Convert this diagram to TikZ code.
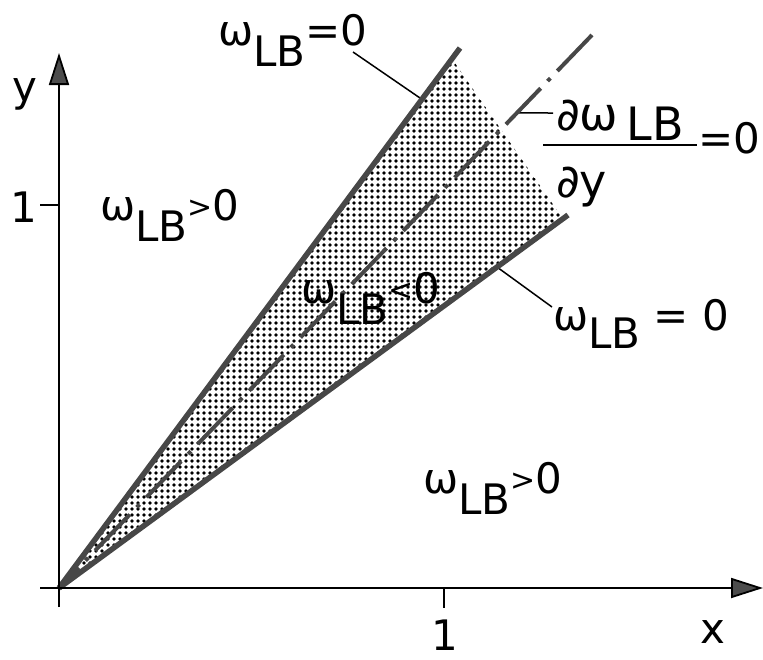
\documentclass[tikz,border=0pt]{standalone}
\usepackage{fontspec}
\setmainfont{DejaVu Sans}
\usetikzlibrary{arrows.meta,patterns.meta,calc}
\newcommand\LBs[1][-21pt]{\raisebox{#1}{LB}}
\newcommand\relsm[1]{\raisebox{3pt}{\fontsize{30}{30}\selectfont #1}}
\begin{document}
\begin{tikzpicture}[x=1pt,y=-1pt,
  lbl/.style={font=\fontsize{42}{42}\selectfont, inner sep=0pt, anchor=base west},
  bound/.style={line width=5.5pt, draw=black!72},
  dd/.style={line width=4pt, draw=black!72, dash pattern=on 50pt off 10pt on 4pt off 10pt},
  leader/.style={line width=1.5pt},
  tick/.style={line width=1.8pt},
  axis/.style={line width=1.8pt, -{Triangle[length=32pt,width=20pt,fill=black!70]}}]
\useasboundingbox (0,0) rectangle (763,659);
% key points
\coordinate (O) at (59,588);
\coordinate (U) at (460,48);
\coordinate (L) at (568,215);
\coordinate (D) at (592,35);
% shaded wedge
\fill[pattern={Dots[distance=6pt,radius=1.8pt]},pattern color=black]
  (O) -- ($(O)!0.98!(U)$) -- ($(O)!0.99!(L)$) -- cycle;
% leaders
\coordinate (t1) at (353,52);
\coordinate (t2) at ($(O)!0.905!(U)$);
\coordinate (m1) at (553,113);
\coordinate (m2) at ($(O)!0.859!(D)$);
\coordinate (l1) at (552,307);
\coordinate (l2) at ($(O)!0.8605!(L)$);
\draw[leader] (t1) -- (t2);
\draw[leader] (m1) -- (m2);
\draw[leader] (l1) -- (l2);
% boundary lines
\draw[bound] (O) -- (U);
\draw[bound] (O) -- (L);
\draw[dd] (D) -- (O);
% axes
\coordinate (xs) at (40,588);
\coordinate (xe) at (763,588);
\coordinate (ys) at (59,607);
\coordinate (ye) at (59,53);
\draw[axis] (xs) -- (xe);
\draw[axis] (ys) -- (ye);
\draw[tick] (40,205) -- (59,205);
\draw[tick] (444,588) -- (444,608);
% axis labels
\node[lbl] (ylab) at (12,101) {y};
\node[lbl,anchor=base] (oney) at (24,222) {1};
\node[lbl,anchor=base] (onex) at (445,650) {1};
\node[lbl,anchor=base] (xlab) at (713,643) {x};
% region labels
\node[lbl] (wtop) at (218,45) {ω\LBs{}=0};
\node[lbl] (wleft) at (100,220) {ω\LBs\relsm{>}0};
\node[lbl] (win) at (301,303) {ω\LBs\relsm{<}0};
\node[lbl] (wbot) at (423,493) {ω\LBs\relsm{>}0};
\node[lbl] (wlow) at (553,330) {ω\LBs[-18pt]{} = 0};
% derivative label
\node[lbl,font=\fontsize{46}{46}\selectfont] (num) at (556,130) {∂ω\kern8pt\LBs[-10pt]};
\node[lbl,font=\fontsize{46}{46}\selectfont] (den) at (556,197) {∂y};
\draw[line width=2pt] (543,145) -- (697,145);
\node[lbl] (eq) at (698,153) {=0};
\end{tikzpicture}
\end{document}
